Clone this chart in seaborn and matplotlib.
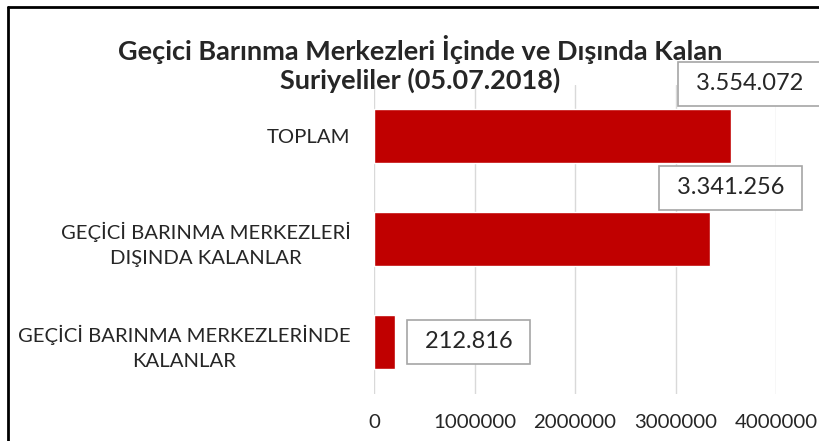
import matplotlib
matplotlib.use("Agg")
import matplotlib.pyplot as plt
import seaborn as sns
import pandas as pd
from matplotlib.lines import Line2D

categories = ["TOPLAM",
              "GEÇİCİ BARINMA MERKEZLERİ\nDIŞINDA KALANLAR",
              "GEÇİCİ BARINMA MERKEZLERİNDE\nKALANLAR"]
values = [3554072, 3341256, 212816]
value_labels = ["3.554.072", "3.341.256", "212.816"]
xticks = [0, 1000000, 2000000, 3000000, 4000000]
title_lines = ["Geçici Barınma Merkezleri İçinde ve Dışında Kalan",
               "Suriyeliler (05.07.2018)"]

sns.set_theme(style="white")
plt.rcParams['font.family'] = ['Lato', 'DejaVu Sans']

df = pd.DataFrame({"cat": categories, "val": values})

fig = plt.figure(figsize=(8.19, 4.41), dpi=100)
ax = fig.add_axes([374/819, 1 - 393.5/441, (776-374)/819, (393.5-84.5)/441])

sns.barplot(data=df, x="val", y="cat", orient="h", color="#C00000",
            saturation=1, width=0.52, ax=ax)

ax.set_xlim(0, 4000000)
ax.set_xticks(xticks)
ax.set_xticklabels([str(t) for t in xticks], fontsize=14.7)
ax.tick_params(axis='x', length=0, pad=15)
ax.tick_params(axis='y', length=0, pad=17)
for lab in ax.get_yticklabels():
    lab.set_fontsize(14.6)
    lab.set_multialignment('center')
    lab.set_linespacing(1.55)
ax.set_xlabel("")
ax.set_ylabel("")
ax.grid(axis='x', color='#D9D9D9', linewidth=1)
ax.set_axisbelow(True)
for s in ax.spines.values():
    s.set_visible(False)

offsets = [(18, 52), (21, 51), (73, 0)]
for i, (v, lab) in enumerate(zip(values, value_labels)):
    dx, dy = offsets[i]
    ax.annotate(" " + lab + " ", xy=(v, i), xytext=(dx, dy), textcoords='offset pixels',
                ha='center', va='center', fontsize=17,
                bbox=dict(boxstyle='square,pad=0.5', fc='white', ec='#A6A6A6', lw=1.2))

fig.text(420/819, 1 - 49/441, title_lines[0], ha='center', va='center', fontsize=19.5,
         fontweight='bold')
fig.text(420/819, 1 - 80/441, title_lines[1], ha='center', va='center', fontsize=19.5,
         fontweight='bold')

fig.add_artist(Line2D([8/819, 8/819], [0, 1 - 7/441], transform=fig.transFigure, color='black', lw=2))
fig.add_artist(Line2D([8/819, 1], [1 - 7/441, 1 - 7/441], transform=fig.transFigure, color='black', lw=2))

fig.savefig("out.png", dpi=100)
